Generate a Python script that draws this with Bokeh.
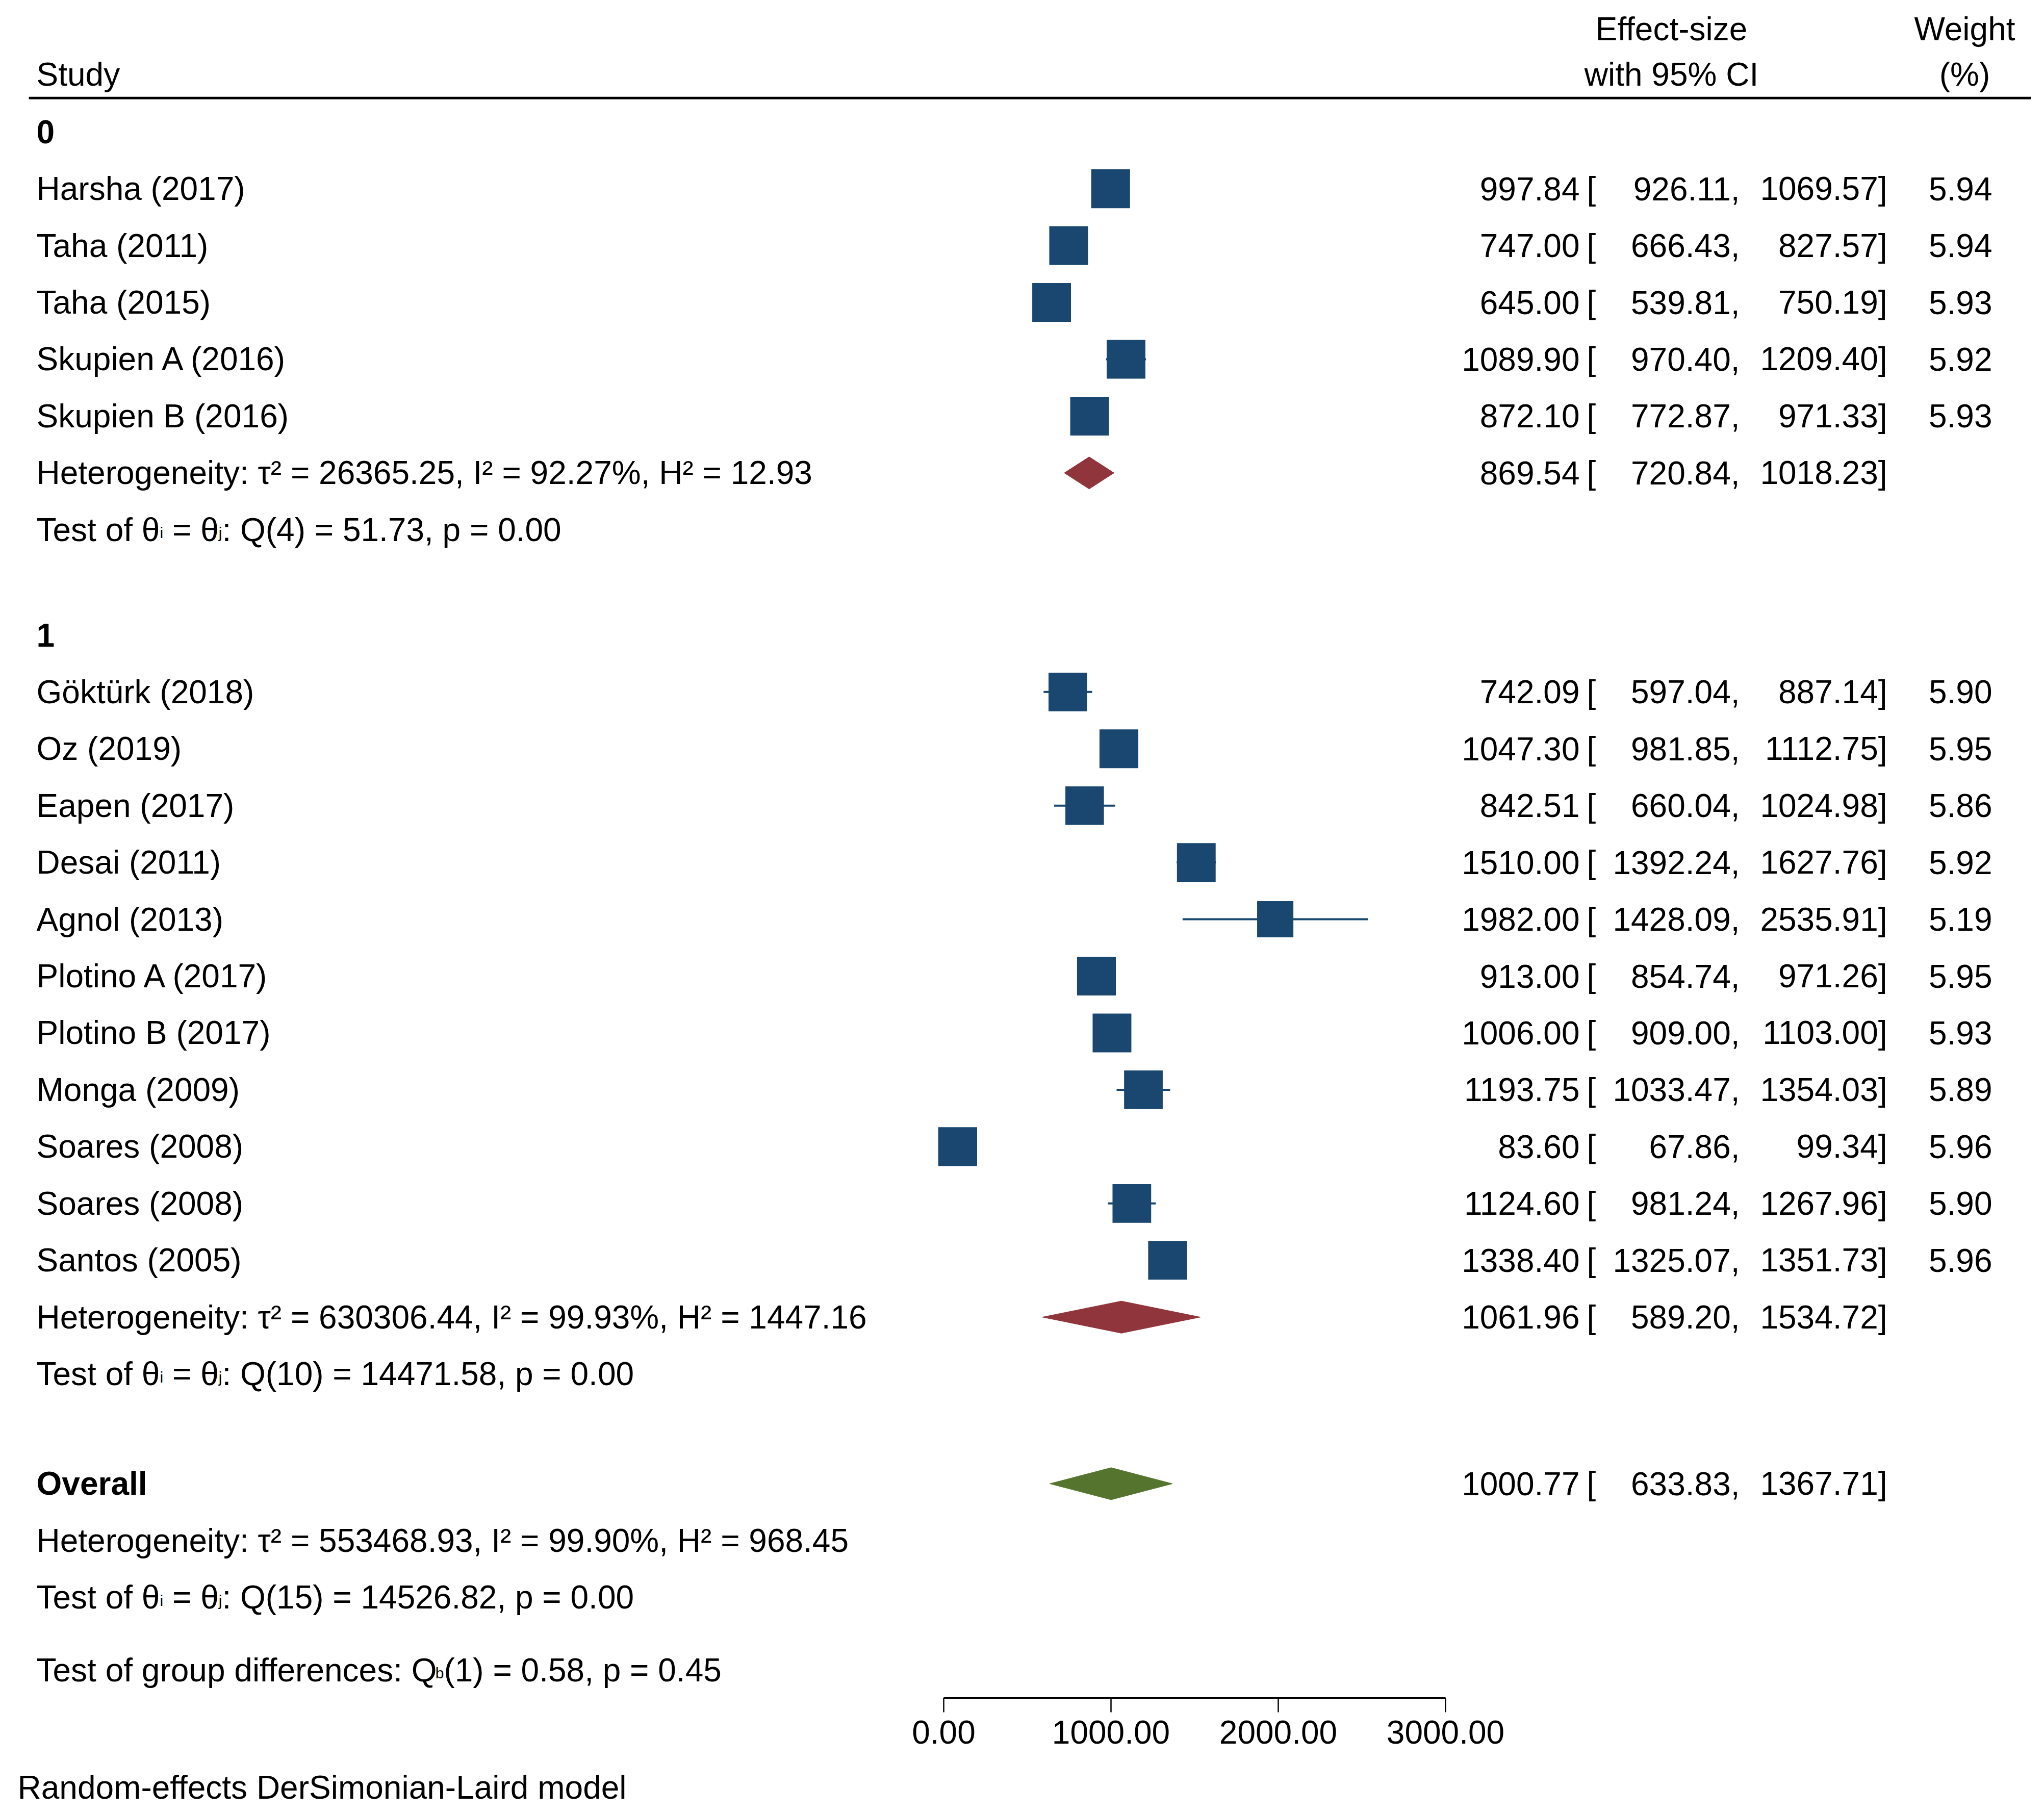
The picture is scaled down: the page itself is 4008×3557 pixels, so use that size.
import math
from bokeh.plotting import figure
from bokeh.models import Range1d, LinearAxis, FixedTicker, NumeralTickFormatter
from bokeh.core.properties import value
from bokeh.embed import file_html
from bokeh.resources import INLINE

# ---------------- data ----------------
group0_label = "0"
group0_studies = ["Harsha (2017)", "Taha (2011)", "Taha (2015)", "Skupien A (2016)", "Skupien B (2016)"]
group0_es = [997.84, 747.00, 645.00, 1089.90, 872.10]
group0_lo = [926.11, 666.43, 539.81, 970.40, 772.87]
group0_hi = [1069.57, 827.57, 750.19, 1209.40, 971.33]
group0_w = [5.94, 5.94, 5.93, 5.92, 5.93]
group0_pooled = [869.54, 720.84, 1018.23]
group0_het = "Heterogeneity: τ² = 26365.25, I² = 92.27%, H² = 12.93"
group0_q = ": Q(4) = 51.73, p = 0.00"

group1_label = "1"
group1_studies = ["Göktürk (2018)", "Oz (2019)", "Eapen (2017)", "Desai (2011)", "Agnol (2013)",
                  "Plotino A (2017)", "Plotino B (2017)", "Monga (2009)", "Soares (2008)",
                  "Soares (2008)", "Santos (2005)"]
group1_es = [742.09, 1047.30, 842.51, 1510.00, 1982.00, 913.00, 1006.00, 1193.75, 83.60, 1124.60, 1338.40]
group1_lo = [597.04, 981.85, 660.04, 1392.24, 1428.09, 854.74, 909.00, 1033.47, 67.86, 981.24, 1325.07]
group1_hi = [887.14, 1112.75, 1024.98, 1627.76, 2535.91, 971.26, 1103.00, 1354.03, 99.34, 1267.96, 1351.73]
group1_w = [5.90, 5.95, 5.86, 5.92, 5.19, 5.95, 5.93, 5.89, 5.96, 5.90, 5.96]
group1_pooled = [1061.96, 589.20, 1534.72]
group1_het = "Heterogeneity: τ² = 630306.44, I² = 99.93%, H² = 1447.16"
group1_q = ": Q(10) = 14471.58, p = 0.00"

overall_label = "Overall"
overall_pooled = [1000.77, 633.83, 1367.71]
overall_het = "Heterogeneity: τ² = 553468.93, I² = 99.90%, H² = 968.45"
overall_q = ": Q(15) = 14526.82, p = 0.00"
group_diff_pre = "Test of group differences: Q"
group_diff_sub = "b"
group_diff_post = "(1) = 0.58, p = 0.45"
footer = "Random-effects DerSimonian-Laird model"

x_ticks = [0, 1000, 2000, 3000]

# ---------------- layout ----------------
W, H = 3992, 3552
S = 4008 / 1568.0          # reference display px -> page px
PX0, PPU = 1850.0, 0.328    # figure px of 0, figure px per unit


def fy(d):
    return d * S


def fx(px):
    return (px - PX0) / PPU


FONT = "Liberation Sans"
FS = 64
SS = 30
OFF = 0.0          # anchor offset from cap centre
SUB_DY = 6
NAVY = "#1A476F"
MAROON = "#90353B"
GREEN = "#55752F"

AW = {'T': 611, 'e': 556, 's': 500, 't': 278, ' ': 278, 'o': 556, 'f': 278, 'θ': 556, '=': 584,
      'g': 556, 'r': 333, 'u': 556, 'p': 556, 'd': 556, 'i': 222, 'c': 500, 'n': 556, ':': 278,
      'Q': 778, 'j': 222, 'b': 556}


def tw(s, size):
    return sum(AW[c] for c in s) * size / 1000.0


STEP = 43.6
LEFT = 71
y_g0_head = 101
y_g0 = [y_g0_head + STEP * (i + 1) for i in range(len(group0_studies))]
y_g0_het = y_g0_head + STEP * 6
y_g0_test = y_g0_head + STEP * 7
y_g1_head = 487
y_g1 = [y_g1_head + STEP * (i + 1) for i in range(len(group1_studies))]
y_g1_het = y_g1_head + STEP * 12
y_g1_test = y_g1_head + STEP * 13
y_ov = 1138
y_ov_het = y_ov + STEP
y_ov_test = y_ov + 2 * STEP
y_qb = 1281
y_foot = 1371
AXIS_Y = fy(1302.4)

p = figure(width=W, height=H, x_range=Range1d(fx(0), fx(W)), y_range=Range1d(H, 0),
           output_backend="svg", toolbar_location=None, x_axis_type=None, y_axis_type=None,
           min_border=0, outline_line_color=None, background_fill_color="white",
           border_fill_color="white")

txt = dict(text_font=value(FONT), text_font_size=f"{FS}px", text_color="black",
           text_baseline="alphabetic")

# header
p.text(x=[fx(LEFT)], y=[fy(57) + OFF], text=["Study"], text_align="left", **txt)
p.text(x=[fx(3277), fx(3277), fx(3852), fx(3852)],
       y=[fy(22) + OFF, fy(57) + OFF, fy(22) + OFF, fy(57) + OFF],
       text=["Effect-size", "with 95% CI", "Weight", "(%)"], text_align="center", **txt)
p.segment(x0=[fx(56)], x1=[fx(3982)], y0=[fy(75)], y1=[fy(75)], line_color="black", line_width=5)

# group labels
p.text(x=[fx(LEFT)] * 3, y=[fy(y_g0_head) + OFF, fy(y_g1_head) + OFF, fy(y_ov) + OFF],
       text=[group0_label, group1_label, overall_label], text_align="left",
       text_font_style="bold", **txt)

# study names and heterogeneity lines
names = group0_studies + group1_studies + [group0_het, group1_het, overall_het]
ny = y_g0 + y_g1 + [y_g0_het, y_g1_het, y_ov_het]
p.text(x=[fx(LEFT)] * len(names), y=[fy(v) + OFF for v in ny], text=names, text_align="left", **txt)
p.text(x=[fx(34)], y=[fy(y_foot) + OFF], text=[footer], text_align="left", **txt)

# test lines with subscripts (SVG drops leading spaces, so gaps are added by position)
KERN_TE = 7
SP = tw(" ", FS)
main_x, main_y, main_t, sub_x, sub_y, sub_t = [], [], [], [], [], []
for yy, q in [(y_g0_test, group0_q), (y_g1_test, group1_q), (y_ov_test, overall_q)]:
    b = fy(yy) + OFF
    x = LEFT
    main_x.append(x); main_y.append(b); main_t.append("Test of θ")
    x += tw("Test of θ", FS) - KERN_TE
    sub_x.append(x); sub_y.append(b + SUB_DY); sub_t.append("i")
    x += tw("i", SS) + SP
    main_x.append(x); main_y.append(b); main_t.append("= θ")
    x += tw("= θ", FS)
    sub_x.append(x); sub_y.append(b + SUB_DY); sub_t.append("j")
    x += tw("j", SS)
    main_x.append(x); main_y.append(b); main_t.append(q)
b = fy(y_qb) + OFF
x = LEFT
main_x.append(x); main_y.append(b); main_t.append(group_diff_pre)
x += tw(group_diff_pre, FS) - 11
sub_x.append(x); sub_y.append(b + SUB_DY); sub_t.append(group_diff_sub)
x += tw(group_diff_sub, SS)
main_x.append(x); main_y.append(b); main_t.append(group_diff_post)
p.text(x=[fx(v) for v in main_x], y=main_y, text=main_t, text_align="left", **txt)
sub_style = dict(txt)
sub_style["text_font_size"] = f"{SS}px"
p.text(x=[fx(v) for v in sub_x], y=sub_y, text=sub_t, text_align="left", **sub_style)

# numeric columns
es_all = group0_es + group1_es + [group0_pooled[0], group1_pooled[0], overall_pooled[0]]
lo_all = group0_lo + group1_lo + [group0_pooled[1], group1_pooled[1], overall_pooled[1]]
hi_all = group0_hi + group1_hi + [group0_pooled[2], group1_pooled[2], overall_pooled[2]]
row_y = y_g0 + y_g1 + [y_g0_het, y_g1_het, y_ov]
by = [fy(v) + OFF for v in row_y]
n = len(es_all)
p.text(x=[fx(3097)] * n, y=by, text=[f"{v:.2f}" for v in es_all], text_align="right", **txt)
p.text(x=[fx(3111)] * n, y=by, text=["["] * n, text_align="left", **txt)
p.text(x=[fx(3411)] * n, y=by, text=[f"{v:.2f}," for v in lo_all], text_align="right", **txt)
p.text(x=[fx(3700)] * n, y=by, text=[f"{v:.2f}]" for v in hi_all], text_align="right", **txt)
w_all = group0_w + group1_w
wy = [fy(v) + OFF for v in (y_g0 + y_g1)]
p.text(x=[fx(3906)] * len(w_all), y=wy, text=[f"{v:.2f}" for v in w_all], text_align="right", **txt)

# CI lines and squares
st_es = group0_es + group1_es
st_lo = group0_lo + group1_lo
st_hi = group0_hi + group1_hi
st_y = [fy(v) for v in (y_g0 + y_g1)]
p.segment(x0=st_lo, x1=st_hi, y0=st_y, y1=st_y, line_color=NAVY, line_width=4)
sizes = [31.2 * math.sqrt(w) for w in w_all]
p.scatter(x=st_es, y=st_y, size=sizes, marker="square", fill_color=NAVY, line_color=None)

# diamonds
DH = 63
dx, dy, dc = [], [], []
for (est, lo, hi), yy, c in [(group0_pooled, y_g0_het, MAROON), (group1_pooled, y_g1_het, MAROON),
                             (overall_pooled, y_ov, GREEN)]:
    yc = fy(yy)
    dx.append([lo, est, hi, est])
    dy.append([yc, yc - DH / 2, yc, yc + DH / 2])
    dc.append(c)
p.patches(xs=dx, ys=dy, fill_color=dc, line_color=dc, line_width=1)

# axis
ax = LinearAxis(ticker=FixedTicker(ticks=x_ticks), formatter=NumeralTickFormatter(format="0.00"),
                bounds=(0, 3000), fixed_location=AXIS_Y)
ax.axis_line_width = 3
ax.axis_line_color = "black"
ax.major_tick_line_width = 2.5
ax.major_tick_line_color = "black"
ax.major_tick_out = 28
ax.major_tick_in = 0
ax.minor_tick_line_color = None
ax.major_label_text_font = FONT
ax.major_label_text_font_size = f"{FS}px"
ax.major_label_text_color = "black"
ax.major_label_standoff = 16
p.add_layout(ax, "below")

open("out.html", "w").write(file_html(p, INLINE))
